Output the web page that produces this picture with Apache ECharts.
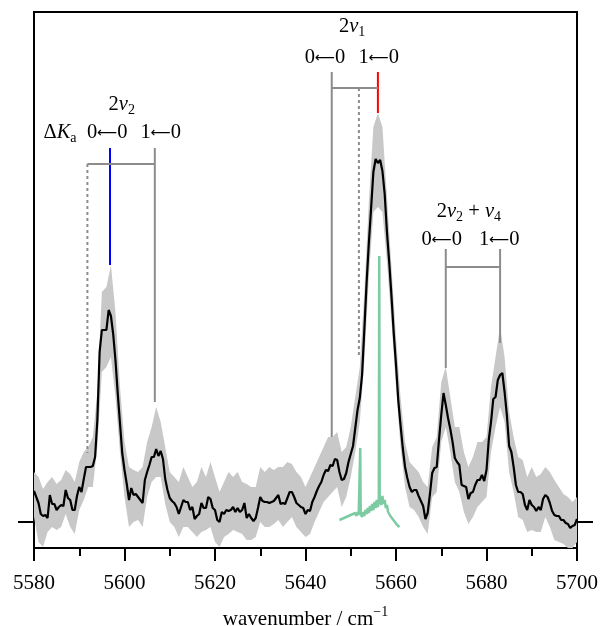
<!DOCTYPE html>
<html>
<head>
<meta charset="utf-8">
<script src="https://cdn.jsdelivr.net/npm/echarts@6/dist/echarts.min.js"></script>
<style>
  html, body { margin: 0; padding: 0; background: #fff; }
  #chart { width: 600px; height: 626px; }
</style>
</head>
<body>
<div id="chart"></div>
<script>
// Measured spectrum, sampled every 0.5 cm-1 from 5580 cm-1
const measStart = 5580, measStep = 0.5;
const measured = [
  0.31,0.25,0.19,0.08,0.06,0.07,0.04,0.27,0.18,0.18,
  0.12,0.15,0.17,0.16,0.32,0.24,0.22,0.12,0.12,0.26,
  0.35,0.30,0.43,0.55,0.55,0.55,0.56,0.65,1.02,1.70,
  1.92,1.92,1.92,2.12,2.06,1.88,1.62,1.29,0.99,0.69,
  0.52,0.38,0.22,0.34,0.27,0.28,0.25,0.22,0.19,0.42,
  0.50,0.57,0.65,0.65,0.73,0.66,0.71,0.63,0.43,0.32,
  0.24,0.21,0.19,0.15,0.08,0.15,0.22,0.20,0.20,0.12,
  0.15,0.03,0.06,0.08,0.19,0.14,0.14,0.25,0.23,0.14,
  0.12,0.02,0.00,0.10,0.08,0.12,0.11,0.12,0.15,0.10,
  0.14,0.10,0.12,0.19,0.04,0.08,0.04,0.01,0.04,0.14,
  0.25,0.21,0.20,0.20,0.19,0.20,0.21,0.24,0.27,0.18,
  0.19,0.18,0.24,0.30,0.30,0.25,0.19,0.17,0.15,0.14,
  0.08,0.12,0.11,0.20,0.25,0.31,0.36,0.40,0.47,0.52,
  0.51,0.57,0.56,0.63,0.62,0.50,0.42,0.43,0.49,0.60,
  0.68,0.76,0.94,1.12,1.24,1.47,1.92,2.39,2.79,3.14,
  3.50,3.63,3.59,3.62,3.51,3.28,2.90,2.60,2.26,1.89,
  1.57,1.22,0.97,0.74,0.55,0.44,0.35,0.30,0.32,0.32,
  0.26,0.21,0.16,0.03,0.09,0.28,0.49,0.54,0.55,0.82,
  1.07,1.29,1.17,1.04,0.93,0.80,0.64,0.60,0.57,0.37,
  0.36,0.35,0.23,0.29,0.30,0.37,0.42,0.42,0.47,0.41,
  0.52,0.82,1.00,1.23,1.25,1.42,1.47,1.49,1.30,1.07,
  0.76,0.70,0.55,0.37,0.30,0.30,0.28,0.17,0.12,0.22,
  0.17,0.15,0.11,0.15,0.12,0.23,0.27,0.25,0.19,0.11,
  0.07,0.06,0.06,0.02,0.02,-0.01,-0.02,-0.06,-0.04,-0.03,
  0.03
];

// Uncertainty envelope, every 1 cm-1 from 5580 cm-1
const envStart = 5580, envStep = 1;
const envUpper = [
  0.50,0.45,0.33,0.40,0.45,0.38,0.42,0.52,0.48,0.40,
  0.60,0.70,0.75,0.85,1.30,2.30,2.35,2.57,2.10,1.35,
  0.80,0.55,0.52,0.50,0.55,0.80,0.95,1.15,1.00,0.75,
  0.50,0.45,0.40,0.55,0.45,0.35,0.40,0.55,0.45,0.60,
  0.45,0.30,0.40,0.50,0.45,0.50,0.40,0.38,0.35,0.35,
  0.55,0.50,0.55,0.52,0.55,0.55,0.60,0.58,0.50,0.45,
  0.35,0.45,0.55,0.65,0.75,0.85,0.85,0.90,0.70,0.75,
  0.95,1.25,1.55,2.30,3.20,3.95,4.09,3.95,3.25,2.55,
  1.85,1.25,0.80,0.60,0.55,0.50,0.40,0.35,0.75,0.85,
  1.40,1.55,1.25,0.95,0.95,0.70,0.55,0.65,0.80,0.80,
  0.85,1.35,1.65,1.95,1.65,1.10,0.85,0.65,0.62,0.45,
  0.55,0.45,0.48,0.55,0.50,0.42,0.35,0.28,0.25,0.20,
  0.25
];
const envLower = [
  0.05,-0.20,-0.25,-0.10,-0.05,-0.08,-0.05,0.08,-0.05,-0.12,
  0.12,0.22,0.35,0.35,0.75,1.50,1.55,1.65,1.25,0.70,
  0.25,-0.05,0.00,0.02,-0.05,0.25,0.40,0.45,0.45,0.18,
  0.00,-0.05,-0.15,-0.05,-0.05,-0.10,-0.15,-0.10,-0.08,-0.05,
  -0.20,-0.25,-0.15,-0.12,-0.08,-0.10,-0.12,-0.18,-0.18,-0.15,
  0.00,-0.05,-0.05,-0.02,0.02,-0.05,0.00,0.05,-0.05,-0.10,
  -0.15,-0.12,0.00,0.10,0.20,0.25,0.30,0.35,0.15,0.25,
  0.45,0.70,1.00,1.60,2.45,3.10,3.15,3.10,2.60,2.00,
  1.35,0.75,0.35,0.15,0.12,0.05,-0.05,-0.12,0.25,0.30,
  0.80,0.95,0.70,0.40,0.30,0.10,-0.02,0.05,0.15,0.20,
  0.25,0.70,0.95,1.15,1.00,0.50,0.30,0.05,0.02,-0.10,
  -0.08,-0.10,-0.10,0.05,-0.05,-0.18,-0.20,-0.22,-0.26,-0.26,
  -0.20
];

// Simulated 2v1 band contour
const simWn = [
  5647.50,5647.75,5648.00,5648.25,5648.50,5648.75,5649.00,5649.25,5649.50,5649.75,
  5650.00,5650.25,5650.50,5650.75,5651.00,5651.25,5651.50,5651.75,5652.00,5652.10,
  5652.20,5652.50,5652.75,5653.00,5653.25,5653.50,5653.75,5654.00,5654.25,5654.50,
  5654.75,5655.00,5655.25,5655.50,5655.75,5656.00,5656.20,5656.30,5656.40,5656.50,
  5656.75,5657.00,5657.25,5657.50,5657.75,5658.00,5658.25,5658.50,5658.75,5659.00,
  5659.25,5659.50,5659.75,5660.00,5660.25,5660.50,5660.75
];
const simVal = [
  0.02,0.00,0.03,0.01,0.04,0.02,0.05,0.03,0.06,0.04,
  0.07,0.05,0.08,0.06,0.09,0.06,0.10,0.07,0.09,0.74,
  0.08,0.05,0.10,0.06,0.12,0.08,0.14,0.09,0.16,0.11,
  0.18,0.12,0.20,0.14,0.22,0.15,0.20,2.66,0.21,0.25,
  0.17,0.26,0.18,0.22,0.14,0.17,0.10,0.12,0.06,0.08,
  0.03,0.04,0.00,0.01,-0.03,-0.02,-0.05
];

// Band-origin markers (wavenumber, top and bottom of each stick)
const markerWn     = [5591.8, 5596.8, 5606.7, 5645.8, 5651.8, 5656.0, 5671.0, 5683.0];
const markerTop    = [3.58,   3.74,   3.74,   4.50,   4.34,   4.50,   2.73,   2.73];
const markerBottom = [0.69,   2.57,   1.20,   0.85,   1.65,   4.09,   1.54,   1.79];
const markerRole   = ['guess', 'obs2v2', 'line', 'line', 'guess', 'obs2v1', 'line', 'line'];

// Horizontal connectors between the K-structure origins
const bracketFrom  = [5591.8, 5645.8, 5671.0];
const bracketTo    = [5606.7, 5656.0, 5683.0];
const bracketLevel = [3.58,   4.34,   2.55];

// Assignment labels
const labelText  = ['2{i|ν}{sub|2}', 'Δ{i|K}{sub|a}', '0{ar|⟵}0', '1{ar|⟵}0',
                    '2{i|ν}{sub|1}', '0{ar|⟵}0', '1{ar|⟵}0',
                    '2{i|ν}{sub|2} + {i|ν}{sub|4}', '0{ar|⟵}0', '1{ar|⟵}0'];
const labelWn    = [5599.4, 5585.75, 5596.2, 5608.0, 5650.3, 5644.3, 5656.2, 5676.1, 5670.1, 5682.8];
const labelLevel = [4.17,   3.89,    3.89,   3.89,   4.95,   4.64,   4.64,   3.10,   2.82,   2.82];

const serif = '"Liberation Serif", "Times New Roman", serif';

const chart = echarts.init(document.getElementById('chart'), null, { renderer: 'canvas' });

const measuredPairs = measured.map((v, i) => [measStart + i * measStep, v]);
const simPairs = simWn.map((w, i) => [w, simVal[i]]);

const roleStyle = {
  line:   { stroke: '#8c8c8c', lineWidth: 2 },
  guess:  { stroke: '#8c8c8c', lineWidth: 2, lineDash: [3, 3] },
  obs2v2: { stroke: '#0000ff', lineWidth: 2 },
  obs2v1: { stroke: '#ff0000', lineWidth: 2 }
};

const labelRich = {
  i:   { fontFamily: serif, fontSize: 20.5, fontStyle: 'italic', lineHeight: 25, fill: '#000' },
  sub: { fontFamily: serif, fontSize: 14, lineHeight: 15, verticalAlign: 'bottom', fill: '#000' },
  ar:  { fontFamily: '"DejaVu Sans", sans-serif', fontSize: 14, lineHeight: 25, fill: '#000' }
};

const axisLineStyle = { color: '#000', width: 2 };

chart.setOption({
  animation: false,
  grid: {
    left: 34, right: 23, top: 12, bottom: 78,
    show: true, borderColor: '#000', borderWidth: 2, backgroundColor: 'transparent',
    outerBoundsMode: 'none'
  },
  xAxis: {
    type: 'value', min: 5580, max: 5700, interval: 20,
    axisLine: { show: true, onZero: false, lineStyle: axisLineStyle },
    axisTick: { show: true, length: 13, lineStyle: axisLineStyle },
    minorTick: { show: true, splitNumber: 2, length: 8, lineStyle: axisLineStyle },
    minorSplitLine: { show: false },
    splitLine: { show: false },
    axisLabel: { color: '#000', fontFamily: serif, fontSize: 21, margin: 25, formatter: v => String(v) },
    name: 'wavenumber / cm{sup|−1}',
    nameLocation: 'middle',
    nameGap: 57,
    nameTextStyle: {
      color: '#000', fontFamily: serif, fontSize: 21, lineHeight: 28,
      rich: { sup: { fontFamily: serif, fontSize: 14, lineHeight: 12, verticalAlign: 'top', color: '#000' } }
    }
  },
  yAxis: [
    {
      type: 'value', min: -0.26, max: 5.10, position: 'left',
      axisLine: { show: true, onZero: false, lineStyle: axisLineStyle },
      axisTick: { show: true, customValues: [0], length: 16, lineStyle: axisLineStyle },
      axisLabel: { show: false },
      splitLine: { show: false }
    },
    {
      type: 'value', min: -0.26, max: 5.10, position: 'right',
      axisLine: { show: true, onZero: false, lineStyle: axisLineStyle },
      axisTick: { show: true, customValues: [0], length: 16, lineStyle: axisLineStyle },
      axisLabel: { show: false },
      splitLine: { show: false }
    }
  ],
  series: [
    {
      // grey uncertainty envelope
      type: 'custom', name: 'envelope', silent: true, clip: true, z: 1,
      data: [[envStart, 0]],
      renderItem: (params, api) => {
        const pts = [];
        for (let i = 0; i < envUpper.length; i++) pts.push(api.coord([envStart + i * envStep, envUpper[i]]));
        for (let i = envLower.length - 1; i >= 0; i--) pts.push(api.coord([envStart + i * envStep, envLower[i]]));
        return { type: 'polygon', shape: { points: pts }, style: { fill: '#c8c8c8' } };
      }
    },
    {
      type: 'line', name: 'measured', data: measuredPairs, z: 3,
      showSymbol: false, symbol: 'none', silent: true,
      lineStyle: { color: '#000', width: 2.2 }
    },
    {
      type: 'line', name: 'simulated', data: simPairs, z: 4,
      showSymbol: false, symbol: 'none', silent: true,
      lineStyle: { color: '#7dcba3', width: 2.5 }
    },
    {
      // band-origin sticks and connectors
      type: 'custom', name: 'assignments', silent: true, z: 5,
      data: [[markerWn[0], 0]],
      renderItem: (params, api) => {
        const children = [];
        markerWn.forEach((w, i) => {
          const a = api.coord([w, markerTop[i]]);
          const b = api.coord([w, markerBottom[i]]);
          children.push({ type: 'line', shape: { x1: a[0], y1: a[1], x2: b[0], y2: b[1] }, style: Object.assign({}, roleStyle[markerRole[i]]) });
        });
        bracketFrom.forEach((w, i) => {
          const a = api.coord([w, bracketLevel[i]]);
          const b = api.coord([bracketTo[i], bracketLevel[i]]);
          children.push({ type: 'line', shape: { x1: a[0], y1: a[1], x2: b[0], y2: b[1] }, style: { stroke: '#8c8c8c', lineWidth: 2 } });
        });
        labelText.forEach((t, i) => {
          const p = api.coord([labelWn[i], labelLevel[i]]);
          children.push({
            type: 'text', x: p[0], y: p[1],
            style: {
              text: t, rich: labelRich, fill: '#000',
              fontFamily: serif, fontSize: 20.5, lineHeight: 25,
              align: 'center', verticalAlign: 'middle'
            }
          });
        });
        return { type: 'group', children };
      }
    }
  ]
});
</script>
</body>
</html>
